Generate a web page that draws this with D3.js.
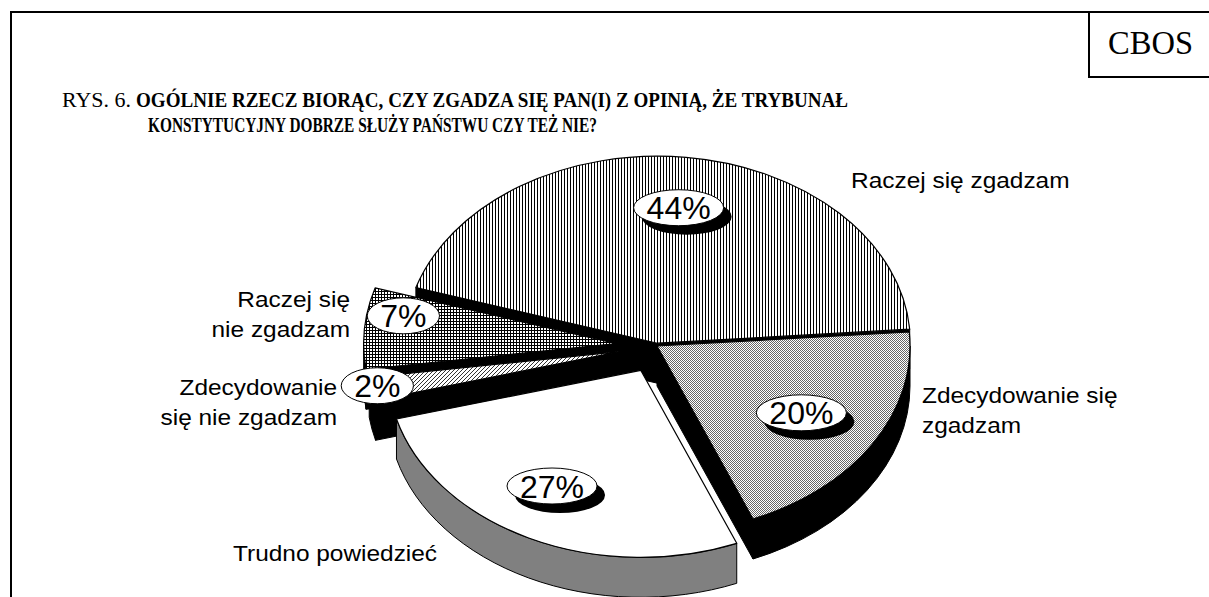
<!DOCTYPE html>
<html>
<head>
<meta charset="utf-8">
<script src="https://cdn.jsdelivr.net/npm/d3@7"></script>
<style>
    body { margin: 0; background: #fff; }
    svg { display: block; }
</style>
</head>
<body>
<div id="chart"></div>
<script>
// data
const categories = ["Zdecydowanie się zgadzam", "Raczej się zgadzam", "Raczej się nie zgadzam", "Zdecydowanie się nie zgadzam", "Trudno powiedzieć"];
const values = [20, 44, 7, 2, 27];
const labelLines = [["Zdecydowanie się", "zgadzam"], ["Raczej się zgadzam"], ["Raczej się", "nie zgadzam"], ["Zdecydowanie", "się nie zgadzam"], ["Trudno powiedzieć"]];
const titlePrefix = "RYS. 6.";
const titleLines = ["OGÓLNIE RZECZ BIORĄC, CZY ZGADZA SIĘ PAN(I) Z OPINIĄ, ŻE TRYBUNAŁ", "KONSTYTUCYJNY DOBRZE SŁUŻY PAŃSTWU CZY TEŻ NIE?"];
const sourceLabel = "CBOS";

// layout and styles
const W = 1209, H = 597;
const pieCfg = {cx: 657, cy: 346, rx: 253, ry: 187, depth: 40, start: 157.7};
const explode = [0, 0.015, 0.16, 0.15, 0.145];
const topFill = ["url(#checker)", "url(#vlines)", "url(#grid)", "url(#diag)", "#fff"];
const sideFill = ["#000", "#000", "#000", "#000", "#808080"];
const pctRadius = [0.68, 0.74, 0.83, 0.97, 0.72];
const pctShift = [[-2, 0], [0, 2], [-4, -15], [-2, -2], [-8, -5]];
const pctShadow = [true, true, false, false, true];
const labelPos = [
    {x: 922, y: 403, anchor: "start"},
    {x: 851, y: 188, anchor: "start"},
    {x: 350, y: 307, anchor: "end"},
    {x: 337, y: 395, anchor: "end"},
    {x: 233, y: 561, anchor: "start"}
];
const labelScale = 1.11;

class Pie3D {
    constructor(parentContainer) {
        this.parentContainer = parentContainer;
        this.initVis();
    }

    initVis() {
        let vis = this;

        vis.svg = d3.select("#" + vis.parentContainer)
            .append("svg")
            .attr("width", W)
            .attr("height", H);

        let defs = vis.svg.append("defs");

        // vertical lines
        let p = defs.append("pattern").attr("id", "vlines").attr("patternUnits", "userSpaceOnUse")
            .attr("width", 3).attr("height", 3);
        p.append("rect").attr("width", 3).attr("height", 3).attr("fill", "#fff");
        p.append("rect").attr("width", 1).attr("height", 3).attr("fill", "#000");

        // small checker
        p = defs.append("pattern").attr("id", "checker").attr("patternUnits", "userSpaceOnUse")
            .attr("width", 2).attr("height", 2);
        p.append("rect").attr("width", 2).attr("height", 2).attr("fill", "#fff");
        p.append("rect").attr("width", 1).attr("height", 1).attr("fill", "#666");
        p.append("rect").attr("x", 1).attr("y", 1).attr("width", 1).attr("height", 1).attr("fill", "#666");

        // small grid
        p = defs.append("pattern").attr("id", "grid").attr("patternUnits", "userSpaceOnUse")
            .attr("width", 3).attr("height", 3);
        p.append("rect").attr("width", 3).attr("height", 3).attr("fill", "#fff");
        p.append("rect").attr("width", 3).attr("height", 1).attr("fill", "#000");
        p.append("rect").attr("width", 1).attr("height", 3).attr("fill", "#000");

        // diagonal
        p = defs.append("pattern").attr("id", "diag").attr("patternUnits", "userSpaceOnUse")
            .attr("width", 4).attr("height", 4);
        p.append("rect").attr("width", 4).attr("height", 4).attr("fill", "#fff");
        p.append("path").attr("d", "M0,4L4,0M-1,1L1,-1M3,5L5,3")
            .attr("stroke", "#333").attr("stroke-width", 1);

        vis.pieG = vis.svg.append("g").attr("class", "pie");
        vis.labelG = vis.svg.append("g").attr("class", "labels");

        vis.drawFrame();
        vis.wrangleData();
    }

    drawFrame() {
        let vis = this;
        let f = vis.svg.append("g").attr("stroke", "#000").attr("stroke-width", 2);
        f.append("line").attr("x1", 10).attr("y1", 12).attr("x2", W).attr("y2", 12);
        f.append("line").attr("x1", 11).attr("y1", 11).attr("x2", 11).attr("y2", H);
        f.append("line").attr("x1", 1089).attr("y1", 11).attr("x2", 1089).attr("y2", 78);
        f.append("line").attr("x1", 1088).attr("y1", 77).attr("x2", W).attr("y2", 77);

        vis.svg.append("text")
            .attr("x", 1108).attr("y", 54)
            .style("font-family", "'Liberation Serif', 'Times New Roman', serif")
            .style("font-size", "34px")
            .attr("textLength", 85).attr("lengthAdjust", "spacingAndGlyphs")
            .text(sourceLabel);

        let t = vis.svg.append("g")
            .style("font-family", "'Liberation Serif', 'Times New Roman', serif");
        t.append("text").attr("x", 62).attr("y", 107)
            .style("font-size", "20px")
            .attr("textLength", 69).attr("lengthAdjust", "spacingAndGlyphs")
            .text(titlePrefix);
        const widths = [712, 449];
        titleLines.forEach((line, i) => {
            t.append("text").attr("x", i === 0 ? 136 : 148).attr("y", 107 + i * 25)
                .style("font-size", "20px").style("font-weight", "bold")
                .attr("textLength", widths[i]).attr("lengthAdjust", "spacingAndGlyphs")
                .text(line);
        });
    }

    wrangleData() {
        let vis = this;
        const c = pieCfg;
        const a0 = c.start * Math.PI / 180;

        // counter-clockwise pie, d3 angles are from 12 o'clock
        const pie = d3.pie().sort(null).startAngle(a0).endAngle(a0 - 2 * Math.PI);
        const arcs = pie(values);

        vis.slices = arcs.map((a, i) => {
            const t0 = Math.min(a.startAngle, a.endAngle) - Math.PI / 2;
            const t1 = Math.max(a.startAngle, a.endAngle) - Math.PI / 2;
            const mid = (t0 + t1) / 2;
            return {
                i: i,
                t0: t0,
                t1: t1,
                mid: mid,
                ax: c.cx + explode[i] * c.rx * Math.cos(mid),
                ay: c.cy + explode[i] * c.ry * Math.sin(mid)
            };
        });

        vis.updateVis();
    }

    updateVis() {
        let vis = this;
        const c = pieCfg;
        const pt = (s, t, dz) => [s.ax + c.rx * Math.cos(t), s.ay + c.ry * Math.sin(t) + (dz || 0)];

        const order = vis.slices.slice().sort((a, b) => Math.sin(a.mid) - Math.sin(b.mid));

        // side walls
        let walls = [];
        order.forEach(s => {
            // cut walls
            [[s.t0, Math.cos(s.t0) < 0], [s.t1, Math.cos(s.t1) > 0]].forEach(([t, visible]) => {
                if (!visible) return;
                const r = pt(s, t), rb = pt(s, t, c.depth);
                walls.push({i: s.i, d: `M${s.ax},${s.ay}L${r}L${rb}L${s.ax},${s.ay + c.depth}Z`});
            });
            // outer wall, front half only
            for (let k = -1; k <= 1; k++) {
                const u0 = Math.max(s.t0, 2 * Math.PI * k), u1 = Math.min(s.t1, 2 * Math.PI * k + Math.PI);
                if (u1 <= u0) continue;
                const p0 = pt(s, u0), p1 = pt(s, u1), p1b = pt(s, u1, c.depth), p0b = pt(s, u0, c.depth);
                walls.push({i: s.i, d: `M${p0}A${c.rx},${c.ry} 0 0 1 ${p1}L${p1b}A${c.rx},${c.ry} 0 0 0 ${p0b}Z`});
            }
        });

        vis.pieG.selectAll(".wall")
            .data(walls)
            .join("path")
            .attr("class", "wall")
            .attr("d", d => d.d)
            .attr("fill", d => sideFill[d.i])
            .attr("stroke", "#000")
            .attr("stroke-width", 1)
            .attr("stroke-linejoin", "round");

        vis.pieG.selectAll(".top")
            .data(order)
            .join("path")
            .attr("class", "top")
            .attr("d", s => {
                const p0 = pt(s, s.t0), p1 = pt(s, s.t1);
                const large = (s.t1 - s.t0) > Math.PI ? 1 : 0;
                return `M${s.ax},${s.ay}L${p0}A${c.rx},${c.ry} 0 ${large} 1 ${p1}Z`;
            })
            .attr("fill", s => topFill[s.i])
            .attr("stroke", "#000")
            .attr("stroke-width", 1.2)
            .attr("stroke-linejoin", "round");

        // percentage ovals
        let pct = vis.labelG.selectAll(".pct")
            .data(vis.slices)
            .join("g")
            .attr("class", "pct")
            .attr("transform", s => {
                const x = s.ax + pctRadius[s.i] * c.rx * Math.cos(s.mid) + pctShift[s.i][0];
                const y = s.ay + pctRadius[s.i] * c.ry * Math.sin(s.mid) + pctShift[s.i][1];
                return `translate(${x},${y})`;
            });

        pct.each(function (s) {
            const g = d3.select(this);
            const label = d3.format(".0%")(values[s.i] / 100);
            const shadow = g.append("ellipse").attr("fill", "#000");
            const oval = g.append("ellipse").attr("fill", "#fff").attr("stroke", "#000").attr("stroke-width", 1);
            const txt = g.append("text")
                .attr("text-anchor", "middle")
                .attr("y", 11.5)
                .style("font-family", "'Liberation Sans', Arial, sans-serif")
                .style("font-size", "32px")
                .text(label);
            const w = txt.node().getComputedTextLength();
            const rx = w / 2 + 13, ry = 18;
            oval.attr("rx", rx).attr("ry", ry);
            if (pctShadow[s.i]) {
                shadow.attr("cx", 8).attr("cy", 9).attr("rx", rx).attr("ry", ry);
            } else {
                shadow.remove();
            }
        });

        // category labels
        vis.labelG.selectAll(".cat")
            .data(categories)
            .join("text")
            .attr("class", "cat")
            .attr("text-anchor", (d, i) => labelPos[i].anchor)
            .style("font-family", "'Liberation Sans', Arial, sans-serif")
            .style("font-size", "22px")
            .each(function (d, i) {
                const el = d3.select(this);
                labelLines[i].forEach((line, j) => {
                    const ts = el.append("tspan")
                        .attr("x", labelPos[i].x)
                        .attr("y", labelPos[i].y + j * 30)
                        .text(line);
                    const w = ts.node().getComputedTextLength();
                    ts.attr("textLength", w * labelScale).attr("lengthAdjust", "spacingAndGlyphs");
                });
            });
    }
}

new Pie3D("chart");
</script>
</body>
</html>
